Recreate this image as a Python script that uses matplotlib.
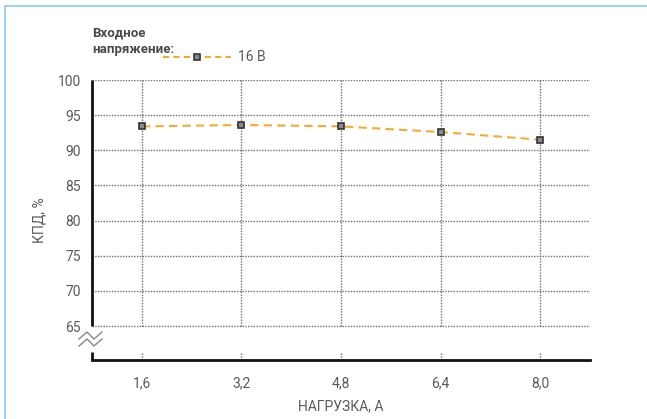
import numpy as np
import matplotlib.pyplot as plt
from matplotlib.lines import Line2D

plt.rcParams['font.family'] = ['Roboto', 'DejaVu Sans']

# Данные: нагрузка (А) и КПД (%) при входном напряжении 16 В
nagruzka = [1.6, 3.2, 4.8, 6.4, 8.0]
kpd_16v = [93.4, 93.6, 93.4, 92.6, 91.5]
x_labels = ['1,6', '3,2', '4,8', '6,4', '8,0']
y_ticks = [65, 70, 75, 80, 85, 90, 95, 100]

W, H = 647, 419
fig = plt.figure(figsize=(W / 100, H / 100), dpi=100)
ax = fig.add_axes([92 / W, 1 - 360 / H, (590 - 92) / W, (360 - 80) / H])

gris = '#5a5a5a'
naranja = '#f5aa32'

ax.set_xlim(0.8, 8.8)
y_min = 65 - (360 - 326) / (246 / 35)
ax.set_ylim(y_min, 100)

# rejilla horizontal
for yv in y_ticks:
    ax.axhline(yv, color='#6e6e6e', lw=1, ls=(0, (1, 1)), zorder=1)
# rejilla vertical (hasta 65) y marcas cortas abajo
f65 = (65 - y_min) / (100 - y_min)
for xv in nagruzka:
    ax.axvline(xv, ymin=f65, ymax=1, color='#6e6e6e', lw=1, ls=(0, (1, 1)), zorder=1)
    ax.axvline(xv, ymin=0, ymax=0.03, color='#6e6e6e', lw=1, ls=(0, (1, 1)), zorder=1)

ax.plot(nagruzka, kpd_16v, color=naranja, lw=1.5, ls=(0, (4, 2.5)), zorder=3,
        marker='s', markersize=5, markerfacecolor='#8a8a8a', markeredgecolor='#333333',
        markeredgewidth=1.2)

for s in ['top', 'right', 'left']:
    ax.spines[s].set_visible(False)
ax.spines['bottom'].set_linewidth(2)
ax.spines['bottom'].set_color('#111111')

# eje izquierdo partido
ax.plot([0, 0], [f65, 1], transform=ax.transAxes, color='#111111', lw=2, clip_on=False, solid_capstyle='butt')
ax.plot([0, 0], [0, 0.03], transform=ax.transAxes, color='#111111', lw=2, clip_on=False, solid_capstyle='butt')
for dy in [0, 7]:
    xs = np.array([79, 87, 94, 102]) / W
    ys = 1 - (np.array([339, 332, 339, 332]) + dy) / H
    fig.add_artist(Line2D(xs, ys, color='#888888', lw=1))

ax.set_xticks(nagruzka)
ax.set_xticklabels(x_labels)
ax.set_yticks(y_ticks)
ax.tick_params(axis='both', length=0, labelsize=10, colors=gris)
ax.tick_params(axis='x', pad=12)
ax.tick_params(axis='y', pad=8)
ax.set_xlabel('НАГРУЗКА, А', fontsize=10, color=gris, labelpad=6)
ax.set_ylabel('КПД, %', fontsize=10, color=gris, labelpad=8)

# leyenda
fig.text(92 / W, 1 - 33 / H, 'Входное', fontsize=9.5, fontweight='bold',
         color='#4a4a4a', va='center', ha='left')
fig.text(92 / W, 1 - 50 / H, 'напряжение:', fontsize=9.5, fontweight='bold',
         color='#4a4a4a', va='center', ha='left')
fig.add_artist(Line2D([163 / W, 231 / W], [1 - 57 / H] * 2, color=naranja, lw=1.5, ls=(0, (3, 2))))
fig.add_artist(Line2D([197 / W], [1 - 57 / H], marker='s', markersize=5, markerfacecolor='#8a8a8a',
                      markeredgecolor='#333333', markeredgewidth=1.2))
fig.text(238 / W, 1 - 57 / H, '16 В', fontsize=10, color=gris, va='center', ha='left')

# marco azul
fig.add_artist(Line2D([5 / W, 5 / W, 1], [0, 1 - 6 / H, 1 - 6 / H], color='#9fd4ee', lw=1.5))

fig.savefig('out.png', dpi=100)
